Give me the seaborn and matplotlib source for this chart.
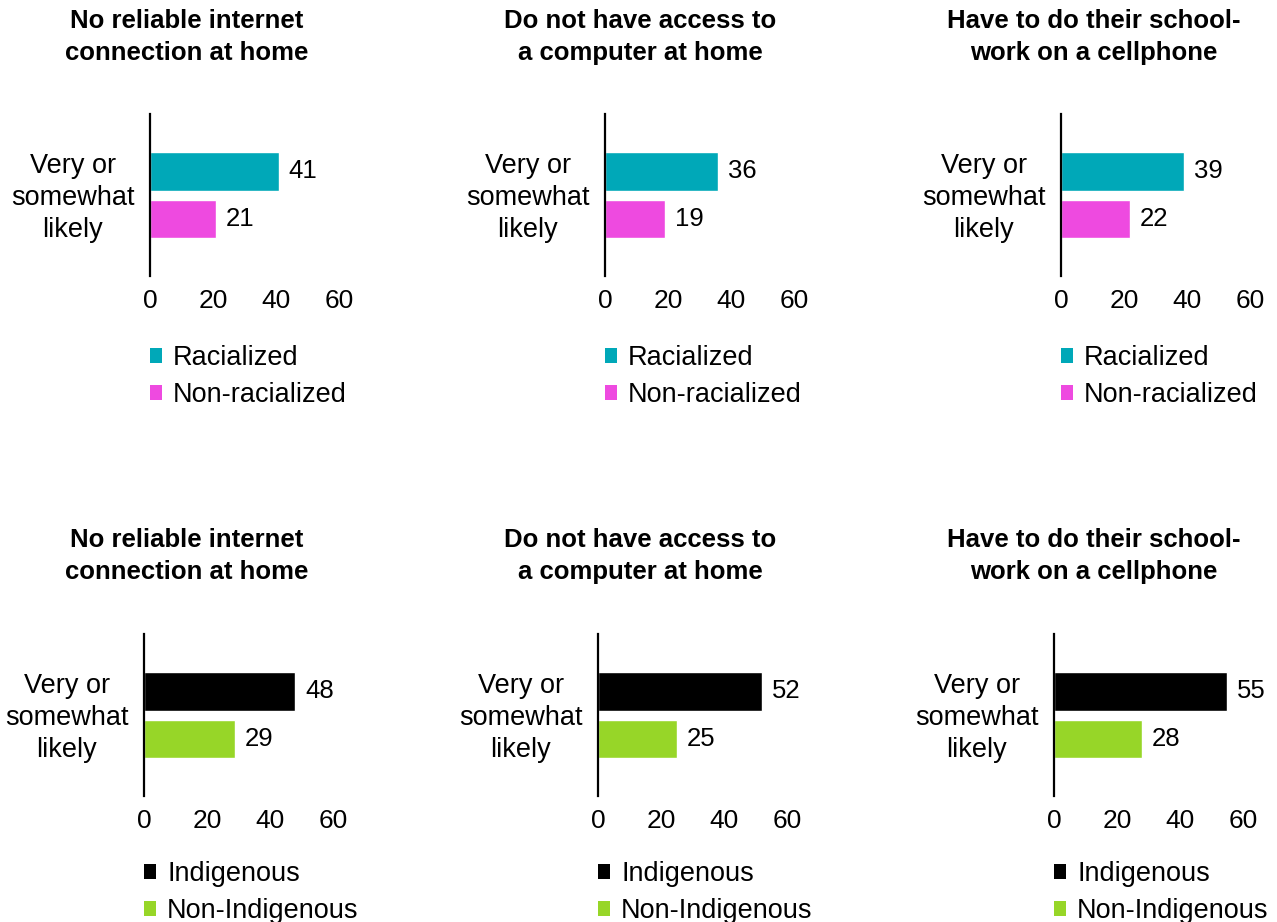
import matplotlib
matplotlib.use("Agg")
import matplotlib.pyplot as plt
import matplotlib.transforms as mtransforms
import seaborn as sns
import pandas as pd
from matplotlib.patches import Patch

sns.set_style("white")
plt.rcParams['font.family'] = ['Liberation Sans', 'DejaVu Sans']
plt.rcParams['text.color'] = 'black'
plt.rcParams['xtick.color'] = 'black'
plt.rcParams['ytick.color'] = 'black'

titles = ["No reliable internet\nconnection at home",
          "Do not have access to\na computer at home",
          "Have to do their school-\nwork on a cellphone"]
category = "Very or\nsomewhat\nlikely"

top_groups = ["Racialized", "Non-racialized"]
racialized = [41, 36, 39]
non_racialized = [21, 19, 22]

bottom_groups = ["Indigenous", "Non-Indigenous"]
indigenous = [48, 52, 55]
non_indigenous = [29, 25, 28]

top_colors = ["#00A8B8", "#EE4AE0"]
bottom_colors = ["#000000", "#97D628"]

W, H = 1277, 922
fig = plt.figure(figsize=(W / 100, H / 100), dpi=100)

# groups, values, colours, axes left edges (px), axes top (px), title centre (px), legend anchor
rows = [
    (top_groups, [racialized, non_racialized], top_colors, [150, 605, 1061], 114, 37, -0.428),
    (bottom_groups, [indigenous, non_indigenous], bottom_colors, [144, 598, 1054], 634, 556, -0.402),
]
title_x = [187, 640, 1094]
lift = mtransforms.ScaledTranslation(0, 3 / 100, fig.dpi_scale_trans)

for groups, series, colors, lefts, top_px, title_y, leg_y in rows:
    for i in range(3):
        ax = fig.add_axes([lefts[i] / W, 1 - (top_px + 162) / H, 189 / W, 162 / H])
        df = pd.DataFrame({
            "cat": [category, category],
            "group": groups,
            "value": [series[0][i], series[1][i]],
        })
        sns.barplot(data=df, x="value", y="cat", hue="group", orient="h",
                    palette=dict(zip(groups, colors)), hue_order=groups,
                    saturation=1, gap=0.18, legend=False, ax=ax)
        for c in ax.containers:
            ax.bar_label(c, padding=7, fontsize=18.5)
        ax.set_xlim(0, 60)
        ax.set_ylim(0.68, -0.684)
        ax.set_xticks([0, 20, 40, 60])
        ax.set_xlabel("")
        ax.set_ylabel("")
        for s in ["top", "right", "bottom"]:
            ax.spines[s].set_visible(False)
        ax.spines["left"].set_linewidth(1.6)
        ax.spines["left"].set_color("black")
        ax.tick_params(axis="both", length=0)
        ax.tick_params(axis="x", pad=9, labelsize=19)
        ax.tick_params(axis="y", pad=11, labelsize=19.5)
        for lab in ax.get_yticklabels():
            lab.set_multialignment("center")
            lab.set_linespacing(1.3)
            lab.set_transform(lab.get_transform() + lift)
        handles = [Patch(facecolor=c, edgecolor="none", label=g) for g, c in zip(groups, colors)]
        ax.legend(handles=handles, loc="upper left", bbox_to_anchor=(0, leg_y),
                  frameon=False, fontsize=19.5, handlelength=0.45, handleheight=0.45,
                  handletextpad=0.4, borderpad=0, borderaxespad=0, labelspacing=0.4)
        fig.text(title_x[i] / W, 1 - title_y / H, titles[i], ha="center", va="center",
                 fontsize=18.5, fontweight="bold", linespacing=1.42)

fig.savefig("out.png", dpi=100)
